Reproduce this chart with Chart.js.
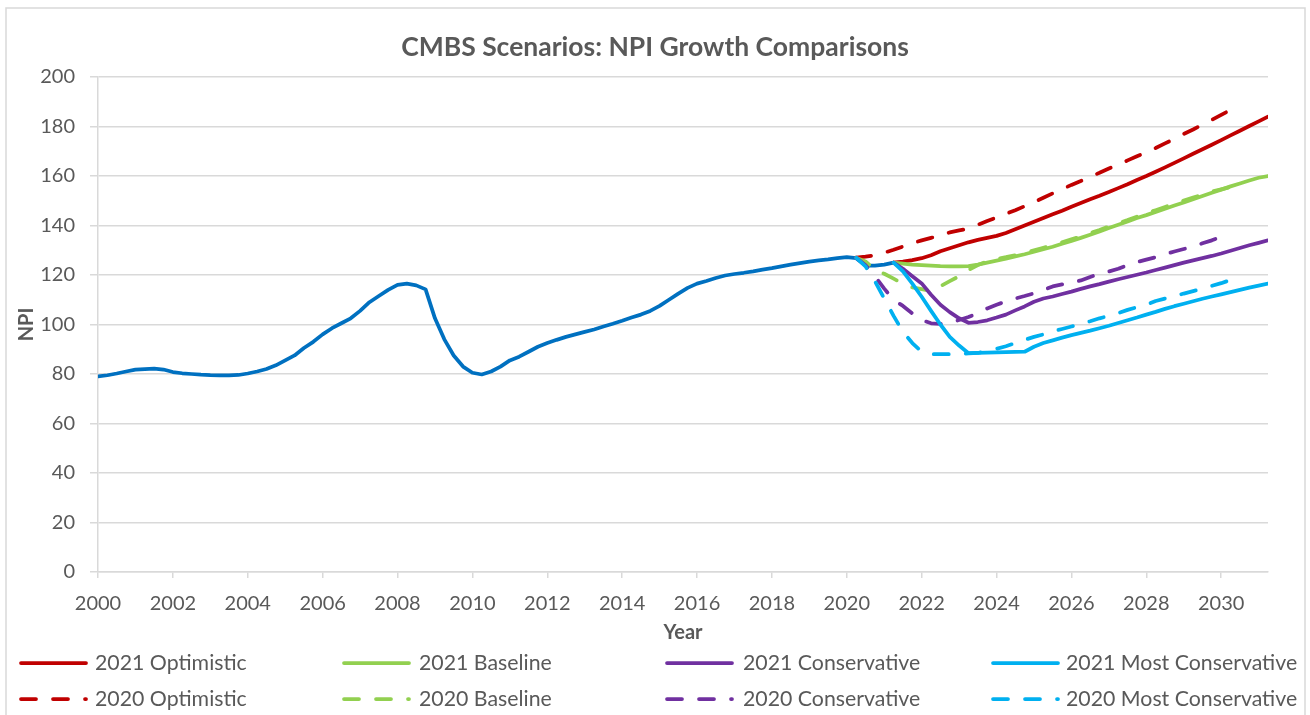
<!DOCTYPE html>
<html>
<head>
<meta charset="utf-8">
<script src="https://cdn.jsdelivr.net/npm/chart.js@4.4.1/dist/chart.umd.min.js"></script>
<style>
  html, body { margin: 0; padding: 0; background: #ffffff; }
  #wrap { position: relative; width: 1310px; height: 715px; }
</style>
</head>
<body>
<div id="wrap"><canvas id="c" width="1310" height="715"></canvas></div>
<script>
// ---------------- DATA (quarterly values) ----------------
const titleText = 'CMBS Scenarios: NPI Growth Comparisons';
const xTitle = 'Year';
const yTitle = 'NPI';

// Historical NPI, quarterly from 2000 Q1 (2000.00) through 2021 Q2 (2021.25)
const historyStart = 2000;
const history = [
  79, 79.5, 80.2, 81,
  81.8, 82, 82.2, 81.8,
  80.8, 80.3, 80, 79.7,
  79.5, 79.4, 79.4, 79.6,
  80.2, 81, 82, 83.5,
  85.5, 87.5, 90.5, 93,
  96, 98.5, 100.5, 102.5,
  105.5, 109, 111.5, 114,
  116, 116.5, 115.8, 114.2,
  102.5, 94, 87.5, 83,
  80.5, 79.8, 81, 83,
  85.5, 87, 89, 91,
  92.5, 93.8, 95, 96,
  97, 98, 99.2, 100.3,
  101.5, 102.8, 104, 105.5,
  107.5, 110, 112.5, 114.8,
  116.5, 117.6, 118.8, 119.8,
  120.4, 120.9, 121.5, 122.2,
  122.8, 123.5, 124.2, 124.8,
  125.4, 125.9, 126.3, 126.8,
  127.2, 126.8, 123.8, 123.8,
  124.2, 125
];

// 2021 scenarios, quarterly from 2021.25 through 2031.25
const start2021 = 2021.25;
const optimistic2021 = [125, 125.4, 126, 126.8, 128, 129.6, 130.8, 132, 133.2, 134.2, 135, 135.8, 137, 138.5, 140, 141.5, 143, 144.5, 146, 147.6, 149.1, 150.6, 152, 153.5, 155.1, 156.7, 158.4, 160, 161.7, 163.5, 165.3, 167.1, 169, 170.8, 172.6, 174.5, 176.4, 178.3, 180.2, 182.1, 184];
const baseline2021 = [125, 124.6, 124.2, 124, 123.8, 123.6, 123.5, 123.5, 123.6, 124.2, 125, 125.8, 126.6, 127.5, 128.4, 129.4, 130.4, 131.4, 132.6, 133.8, 135, 136.3, 137.6, 139, 140.3, 141.6, 143, 144.2, 145.5, 146.8, 148.1, 149.3, 150.6, 151.9, 153.2, 154.5, 155.8, 157, 158.2, 159.3, 160];
const conservative2021 = [125, 122.5, 119.5, 116.6, 112, 108, 105, 102.5, 100.7, 101, 101.7, 102.8, 104, 105.7, 107.3, 109.2, 110.5, 111.3, 112.3, 113.3, 114.4, 115.4, 116.3, 117.3, 118.3, 119.2, 120.1, 121, 122, 123, 124, 125, 125.9, 126.8, 127.7, 128.7, 129.8, 130.9, 132, 133, 134];
const mostConservative2021 = [125, 121.5, 116.5, 111.2, 105.5, 100, 95, 91.5, 88.4, 88.5, 88.6, 88.7, 88.8, 88.9, 89, 91, 92.5, 93.6, 94.7, 95.7, 96.6, 97.5, 98.5, 99.5, 100.6, 101.7, 102.8, 104, 105.1, 106.3, 107.4, 108.4, 109.4, 110.4, 111.3, 112.2, 113.1, 114, 114.9, 115.7, 116.5];

// 2020 scenarios, quarterly from 2020.25 through 2030.25
const start2020 = 2020.25;
const optimistic2020 = [127, 127.4, 128, 129, 130.2, 131.5, 132.8, 134, 135, 136, 137.2, 138, 138.8, 140.3, 141.8, 143.2, 144.7, 146.2, 147.8, 149.5, 151.2, 153, 154.7, 156.4, 158, 159.7, 161.3, 163, 164.6, 166.3, 168, 169.5, 171.3, 173.2, 175, 177, 178.8, 180.8, 182.7, 184.7, 186.7];
const baseline2020 = [127, 125.5, 122, 120.5, 118.5, 116.5, 115, 114.3, 113.6, 115.5, 117.5, 119.5, 122, 124, 125.5, 126.5, 127.2, 128, 129, 130, 131, 132, 133.2, 134.4, 135.6, 136.9, 138.2, 139.6, 140.9, 142.2, 143.6, 144.9, 146.2, 147.5, 148.8, 150.1, 151.3, 152.5, 153.7, 154.6, 155.5];
const conservative2020 = [127, 124, 119.5, 114.5, 110, 107.5, 104.5, 101.8, 100.5, 100.2, 100.8, 101.8, 103, 104.5, 106.5, 108, 109.3, 110.5, 111.5, 112.6, 113.9, 115.4, 116.2, 117, 117.8, 119.2, 120.5, 121.4, 122.5, 124, 125.2, 126.2, 127.2, 128.4, 129.5, 130.5, 131.5, 132.8, 134, 135.5, 136.8];
const mostConservative2020 = [127, 123.5, 117.5, 110.5, 103.5, 97, 92.5, 89, 88, 88, 88, 88.1, 88.3, 88.5, 89.3, 90.2, 91.2, 92.5, 93.8, 95, 96, 97.2, 98.2, 99.2, 100.2, 101.3, 102.5, 103.5, 104.6, 105.9, 107, 108, 109.5, 110.5, 111.4, 112.5, 113.5, 114.5, 115.6, 116.7, 118];

const seriesNames = ['2021 Optimistic', '2021 Baseline', '2021 Conservative', '2021 Most Conservative',
                     '2020 Optimistic', '2020 Baseline', '2020 Conservative', '2020 Most Conservative'];
const xMin = 2000, xMax = 2031.25, xStep = 2;
const yMin = 0, yMax = 200, yStep = 20;

// ---------------- STYLE ----------------
const C_RED = '#C00000', C_GREEN = '#92D050', C_PURPLE = '#7030A0', C_CYAN = '#00B0F0', C_HIST = '#0070C0';
const TEXT = '#595959';
const GRID = '#D9D9D9';
const FONT = 'Lato, "Open Sans", "DejaVu Sans", sans-serif';
const LW = 3.75;
const DASH = [15, 17];

function toPoints(start, values) {
  return values.map((v, i) => ({ x: start + i * 0.25, y: v }));
}

function ds(label, start, values, color, dashed, order, legend) {
  return {
    label: label,
    data: toPoints(start, values),
    borderColor: color,
    backgroundColor: color,
    borderWidth: LW,
    borderDash: dashed ? DASH : [],
    borderCapStyle: 'round',
    borderJoinStyle: 'round',
    pointRadius: 0,
    pointHoverRadius: 0,
    tension: 0,
    fill: false,
    order: order,
    showInLegend: legend
  };
}

const datasets = [
  ds('NPI', historyStart, history, C_HIST, false, 20, false),
  ds(seriesNames[0], start2021, optimistic2021, C_RED, false, 4, true),
  ds(seriesNames[1], start2021, baseline2021, C_GREEN, false, 3, true),
  ds(seriesNames[2], start2021, conservative2021, C_PURPLE, false, 2, true),
  ds(seriesNames[3], start2021, mostConservative2021, C_CYAN, false, 1, true),
  ds(seriesNames[4], start2020, optimistic2020, C_RED, true, 8, true),
  ds(seriesNames[5], start2020, baseline2020, C_GREEN, true, 7, true),
  ds(seriesNames[6], start2020, conservative2020, C_PURPLE, true, 6, true),
  ds(seriesNames[7], start2020, mostConservative2020, C_CYAN, true, 5, true)
];

// ---------------- LAYOUT ----------------
const W = 1310, H = 715;
const AREA = { left: 98, right: 1268, top: 77, bottom: 572 };
const LEGEND_TOP = 648;

const frameAndTitle = {
  id: 'frameAndTitle',
  beforeDraw(chart) {
    const ctx = chart.ctx;
    ctx.save();
    ctx.fillStyle = '#ffffff';
    ctx.fillRect(0, 0, W, H);
    ctx.strokeStyle = GRID;
    ctx.lineWidth = 1.5;
    ctx.strokeRect(6, 8, W - 11, H - 8 + 4);
    ctx.fillStyle = TEXT;
    ctx.font = 'bold 26.5px ' + FONT;
    ctx.textAlign = 'center';
    ctx.textBaseline = 'middle';
    ctx.fillText(titleText, 655, 47);
    ctx.restore();
  }
};

const legendCols = [
  { line: 19, text: 95 },
  { line: 342, text: 419 },
  { line: 665, text: 743 },
  { line: 991, text: 1066 }
];
const legendRows = [663, 699];

const customLegend = {
  id: 'customLegend',
  afterDraw(chart) {
    const ctx = chart.ctx;
    const items = chart.data.datasets.filter(d => d.showInLegend);
    ctx.save();
    items.forEach((d, i) => {
      const col = legendCols[i % 4];
      const y = legendRows[Math.floor(i / 4)];
      ctx.beginPath();
      ctx.strokeStyle = d.borderColor;
      ctx.lineWidth = LW;
      ctx.lineCap = 'round';
      ctx.setLineDash(d.borderDash.length ? DASH : []);
      ctx.moveTo(col.line + 2, y);
      ctx.lineTo(col.line + 67, y);
      ctx.stroke();
      ctx.setLineDash([]);
      ctx.fillStyle = TEXT;
      ctx.font = '21.3px ' + FONT;
      ctx.textAlign = 'left';
      ctx.textBaseline = 'middle';
      ctx.fillText(d.label, col.text, y);
    });
    ctx.restore();
  }
};

new Chart(document.getElementById('c'), {
  type: 'line',
  data: { datasets: datasets },
  plugins: [frameAndTitle, customLegend],
  options: {
    responsive: false,
    animation: false,
    events: [],
    layout: { padding: { top: AREA.top, right: W - AREA.right, bottom: H - LEGEND_TOP, left: 0 } },
    plugins: {
      legend: { display: false },
      title: { display: false },
      tooltip: { enabled: false }
    },
    scales: {
      x: {
        type: 'linear',
        min: xMin,
        max: xMax,
        afterFit(scale) { scale.height = LEGEND_TOP - AREA.bottom; },
        ticks: {
          stepSize: xStep,
          includeBounds: false,
          color: TEXT,
          font: { family: FONT, size: 20 },
          padding: 14,
          maxRotation: 0,
          autoSkip: false,
          callback: v => String(v)
        },
        grid: {
          display: true,
          drawOnChartArea: false,
          drawTicks: true,
          tickLength: 6,
          color: GRID,
          lineWidth: 1.5
        },
        border: { display: true, color: GRID, width: 1.5 },
        title: {
          display: true,
          text: xTitle,
          color: TEXT,
          font: { family: FONT, size: 20, weight: 'bold' },
          padding: { top: 0, bottom: 3 }
        }
      },
      y: {
        type: 'linear',
        min: yMin,
        max: yMax,
        afterFit(scale) { scale.width = AREA.left; },
        ticks: {
          stepSize: yStep,
          color: TEXT,
          font: { family: FONT, size: 20 },
          padding: 15
        },
        grid: {
          color: GRID,
          lineWidth: 1.5,
          drawTicks: true,
          tickLength: 8
        },
        border: { display: true, color: GRID, width: 1.5 },
        title: {
          display: true,
          text: yTitle,
          color: TEXT,
          font: { family: FONT, size: 20, weight: 'bold' },
          padding: { top: 15, bottom: 0 }
        }
      }
    }
  }
});
</script>
</body>
</html>
